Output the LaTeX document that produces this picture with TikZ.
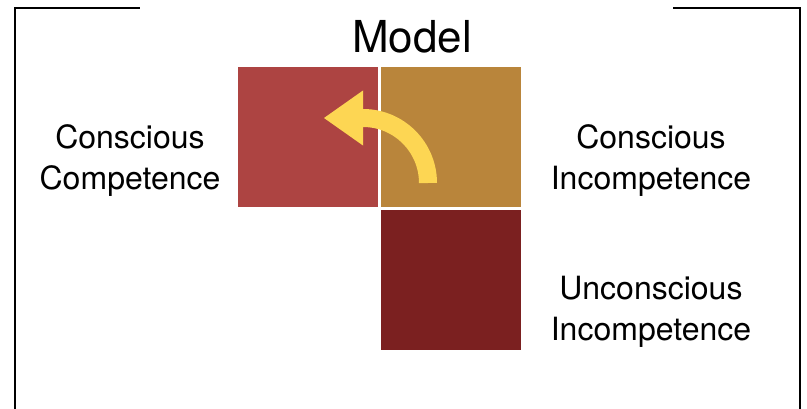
\documentclass[tikz,border=0pt]{standalone}
\usepackage{fontspec}
\setmainfont{TeX Gyre Heros}
\usetikzlibrary{arrows.meta}
\definecolor{ccred}{HTML}{AD4442}
\definecolor{cigold}{HTML}{B9853B}
\definecolor{uidark}{HTML}{7B2020}
\definecolor{arrowyellow}{HTML}{FDD653}

\begin{document}
\begin{tikzpicture}[x=1pt, y=1pt,
	tile/.style={shape=rectangle, draw=none, minimum size=140pt, inner sep=0pt},
	stage/.style={align=center, font=\fontsize{32}{41}\selectfont}]
	\useasboundingbox (0,0) rectangle (807,408);
	\node[tile,fill=ccred] (CC) at (308,271.3) {};
	\node[tile,fill=cigold] (CI) at (450.7,271.3) {};
	\node[tile,fill=uidark] (UI) at (450.7,128.3) {};
	\node[stage] (CClabel) at (130,247.5) {Conscious\\Competence};
	\node[stage] (CIlabel) at (651,247.5) {Conscious\\Incompetence};
	\node[stage] (UIlabel) at (651,96.5) {Unconscious\\Incompetence};
	\node[font=\fontsize{44}{52}\selectfont, anchor=base] (title) at (412,355) {Model};
	% frame, open at the bottom
	\coordinate (frameBL) at (15,-5);
	\coordinate (frameTL) at (15,400);
	\coordinate (frameTR) at (800,400);
	\coordinate (frameBR) at (800,-5);
	\draw [line width=2pt] (frameBL) -- (frameTL) -- (140,400);
	\draw [line width=2pt] (673,400) -- (frameTR) -- (frameBR);
	% step from CI to CC
	\coordinate (stepStart) at (428,225);
	\coordinate (stepEnd) at (324,290);
	\draw [arrowyellow, line width=18pt, -{Triangle[length=39pt,width=55pt,line width=0pt]}]
		(stepStart) arc[start angle=0, end angle=90, radius=65] -- (stepEnd);
\end{tikzpicture}
\end{document}
